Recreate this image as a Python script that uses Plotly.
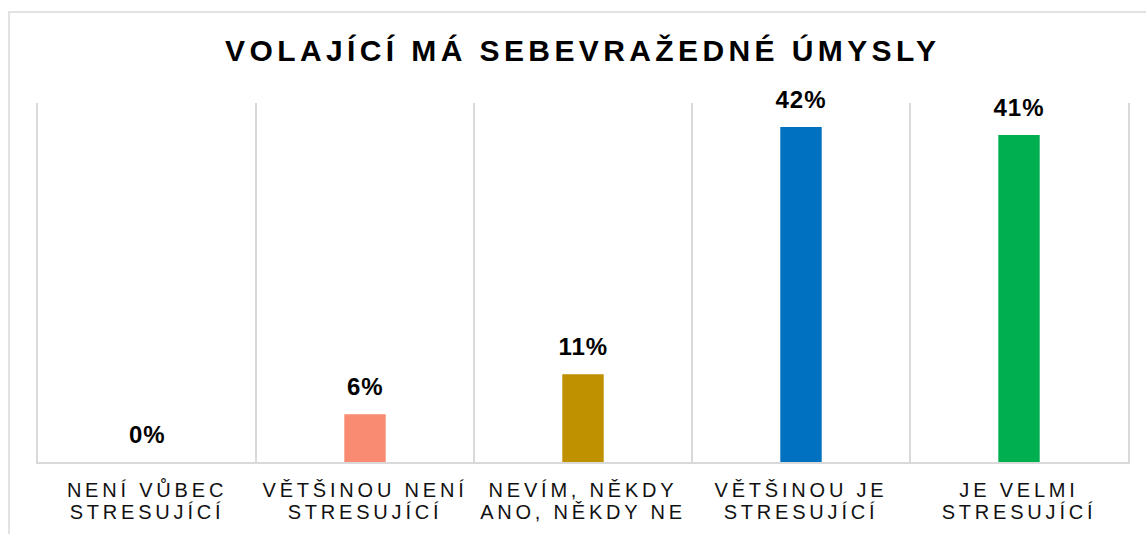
import plotly.graph_objects as go

categories = ["NENÍ VŮBEC<br>STRESUJÍCÍ", "VĚTŠINOU NENÍ<br>STRESUJÍCÍ", "NEVÍM, NĚKDY<br>ANO, NĚKDY NE",
              "VĚTŠINOU JE<br>STRESUJÍCÍ", "JE VELMI<br>STRESUJÍCÍ"]
values = [0, 6, 11, 42, 41]
colors = ["#BFBFBF", "#F98B72", "#BF9000", "#0070C0", "#00B050"]
title_text = "VOLAJÍCÍ MÁ SEBEVRAŽEDNÉ ÚMYSLY"

FONT = "Liberation Sans, Arial, Helvetica, sans-serif"

fig = go.Figure()
fig.add_trace(go.Bar(x=categories, y=values, marker=dict(color=colors, line=dict(width=0)),
                     hoverinfo="skip"))

for c, v in zip(categories, values):
    fig.add_annotation(x=c, y=v, text=f"<b>{v}%</b>", showarrow=False, yanchor="bottom",
                       yshift=12, font=dict(family=FONT, size=24, color="#000000"))

fig.update_layout(
    width=1146, height=534,
    margin=dict(l=38, r=18, t=103, b=72, autoexpand=False),
    paper_bgcolor="white", plot_bgcolor="white",
    bargap=0.81,
    showlegend=False,
    title=dict(text=f"<b>{title_text}</b>", x=0.5085, xanchor="center", y=0.906, yanchor="middle",
               yref="container", xref="container",
               font=dict(family=FONT, size=30, color="#000000")),
    font=dict(family=FONT),
)
fig.update_xaxes(type="category", tickson="boundaries", showgrid=True, gridcolor="#D9D9D9", gridwidth=1.5,
                 showline=True, linecolor="#D9D9D9", linewidth=1.5, ticks="", ticklabelstandoff=9,
                 automargin=False,
                 tickfont=dict(family=FONT, size=20, color="#111111"))
fig.update_yaxes(range=[0, 45], showgrid=False, zeroline=False, showticklabels=False, automargin=False,
                 showline=True, mirror=True, linecolor="#D9D9D9", linewidth=1.5, ticks="")

fig.add_shape(type="rect", xref="paper", yref="paper", x0=(9 - 38) / 1090, x1=1.2,
              y0=-0.6, y1=(462 - 12) / 359, line=dict(color="#D9D9D9", width=1.5),
              fillcolor="rgba(0,0,0,0)", layer="below")

post = """
(function(){
  document.body.style.margin='0';
  document.documentElement.style.overflow='hidden';
  document.querySelectorAll('.gtitle').forEach(function(e){e.style.letterSpacing='4.4px';});
  document.querySelectorAll('.xtick text').forEach(function(e){
    e.style.letterSpacing='3.8px';
    e.querySelectorAll('tspan.line').forEach(function(t){
      var dy = t.getAttribute('dy');
      if (dy && dy !== '0em' && dy !== '0') { t.setAttribute('dy', '1.12em'); }
    });
  });
  document.querySelectorAll('.annotation-text').forEach(function(e){e.style.letterSpacing='1px';});
})();
"""
fig.write_html("out.html", post_script=post, config={"displayModeBar": False})
